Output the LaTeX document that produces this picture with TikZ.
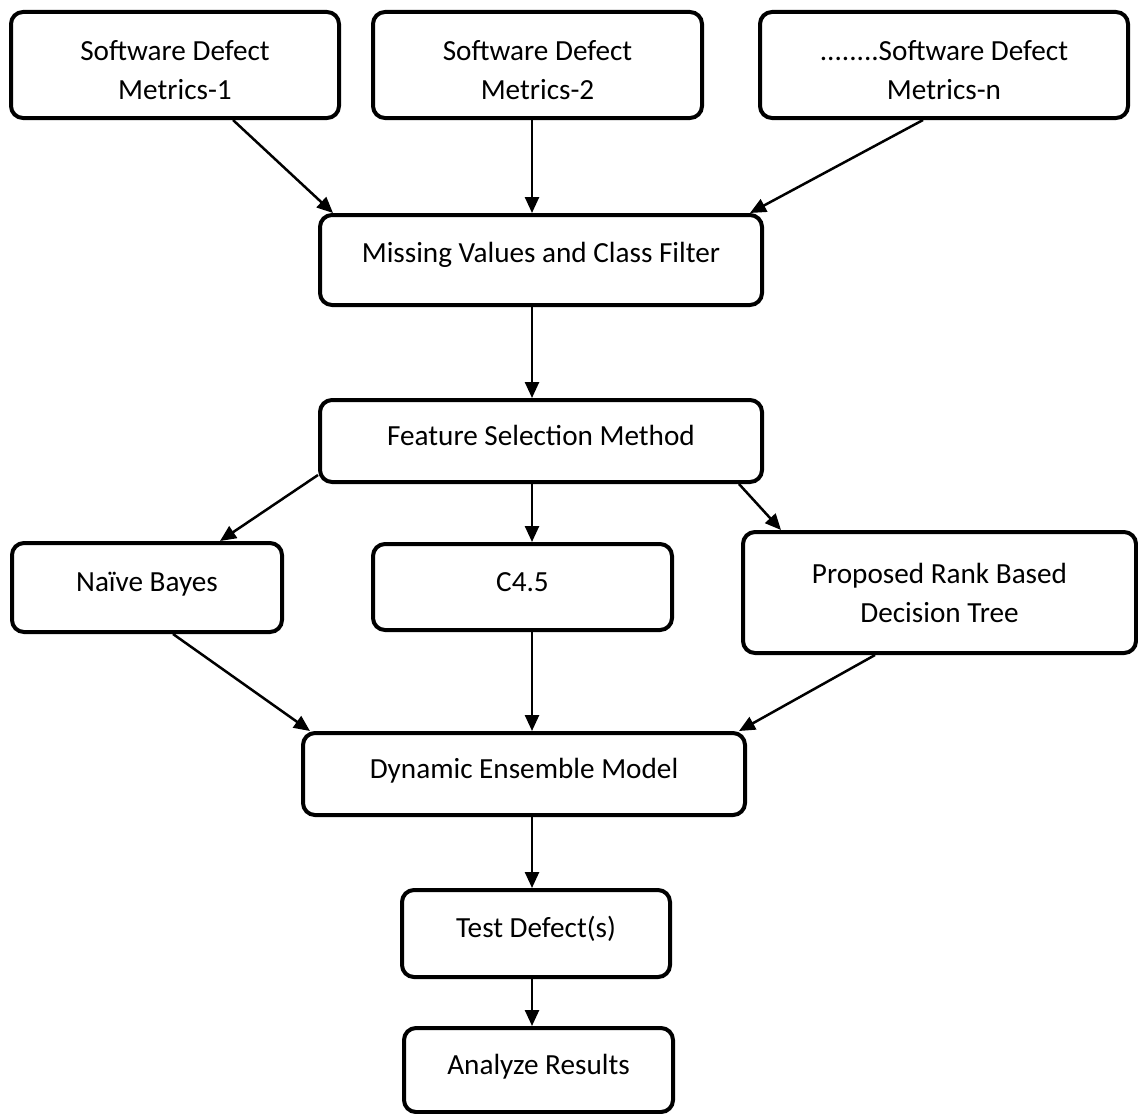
\documentclass[tikz,border=0pt]{standalone}
\usepackage{fontspec}
\setmainfont{Carlito}
\usetikzlibrary{arrows.meta}
\begin{document}
\begin{tikzpicture}[x=0.5pt,y=-0.5pt,
  box/.style={draw, line width=2pt, rounded corners=6pt, align=center, inner sep=0pt,
    font=\fontsize{14.6}{19.5}\selectfont},
  one/.style={text height=11pt, text depth=6.6pt},
  conn/.style={line width=1.25pt, -{Triangle[length=8pt,width=7pt]}}]
\useasboundingbox (0,0) rectangle (1138,1113);
% boxes
\node[box, minimum width=164pt, minimum height=53pt] (b1) at (175,65) {\rule{0pt}{15pt}Software Defect\\Metrics-1};
\node[box, minimum width=164.5pt, minimum height=53pt] (b2) at (537.5,65) {\rule{0pt}{15pt}Software Defect\\Metrics-2};
\node[box, minimum width=184pt, minimum height=53pt] (b3) at (944,65) {\rule{0pt}{15pt}........Software Defect\\Metrics-n};
\node[box, one, minimum width=221pt, minimum height=45pt, text depth=9pt] (mv) at (541,260) {Missing Values and Class Filter};
\node[box, one, minimum width=221pt, minimum height=41pt] (fs) at (541,441) {Feature Selection Method};
\node[box, one, minimum width=135pt, minimum height=44.5pt] (nb) at (147,587.5) {Naïve Bayes};
\node[box, one, minimum width=149.5pt, minimum height=43pt] (c45) at (522.5,587) {C4.5};
\node[box, minimum width=196.5pt, minimum height=60.5pt] (pr) at (939.5,592.5) {Proposed Rank Based\\Decision Tree};
\node[box, one, minimum width=221pt, minimum height=41pt] (dm) at (524,774) {Dynamic Ensemble Model};
\node[box, one, minimum width=134pt, minimum height=43.5pt] (td) at (536,933.5) {Test Defect(s)};
\node[box, one, minimum width=134.5pt, minimum height=42pt] (ar) at (538.5,1070) {Analyze Results};
% connectors
\draw[conn] ([xshift=29pt]b1.south) -- ([xshift=7.5pt]mv.north west);
\draw[conn] ([xshift=-2.75pt]b2.south) -- ([xshift=-2.75pt]b2.south |- mv.north);
\draw[conn] ([xshift=-10.5pt]b3.south) -- ([xshift=-7pt]mv.north east);
\draw[conn] ([xshift=-4.5pt]mv.south) -- ([xshift=-4.5pt]mv.south |- fs.north);
\draw[conn] ([yshift=4.5pt]fs.south west) -- ([xshift=36.5pt]nb.north);
\draw[conn] ([xshift=-4.5pt]fs.south) -- ([xshift=-4.5pt]fs.south |- c45.north);
\draw[conn] ([xshift=-12.5pt]fs.south east) -- ([xshift=20pt]pr.north west);
\draw[conn] ([xshift=13pt]nb.south) -- ([xshift=4.5pt]dm.north west);
\draw[conn] ([xshift=4.75pt]c45.south) -- ([xshift=4.75pt]c45.south |- dm.north);
\draw[conn] ([xshift=-32.25pt]pr.south) -- ([xshift=-4pt]dm.north east);
\draw[conn] ([xshift=4pt]dm.south) -- ([xshift=4pt]dm.south |- td.north);
\draw[conn] ([xshift=-2pt]td.south) -- ([xshift=-2pt]td.south |- ar.north);
\end{tikzpicture}
\end{document}
